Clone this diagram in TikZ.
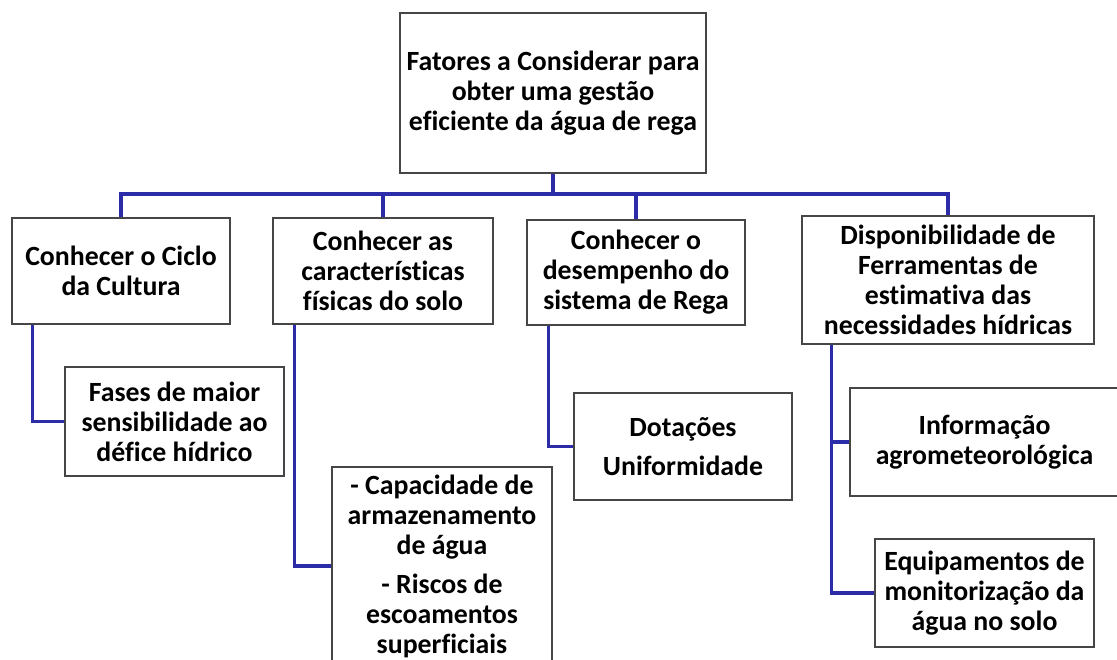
\documentclass[tikz,border=0pt]{standalone}
\usepackage{fontspec}
\setmainfont{Carlito}[Ligatures=NoCommon]
\usepackage{tikz}
\usetikzlibrary{positioning,calc}
\definecolor{linkblue}{RGB}{44,44,168}
\definecolor{boxgray}{RGB}{70,70,70}

\begin{document}
\begin{tikzpicture}[x=1pt,y=-1pt,every node/.style={draw=boxgray,line width=1.5pt,align=center,inner sep=2pt,font=\bfseries\fontsize{27.8}{30}\selectfont}]
\tikzstyle{link}=[draw=linkblue,line width=3.5pt]
\tikzstyle{box}=[fill=white]

\useasboundingbox (0,0) rectangle (1117,659);

% top
\node (goal) [box,minimum width=306,minimum height=160] at (553,93) {Fatores a Considerar para\\obter uma gestão\\eficiente da água de rega};
\coordinate (bus) at (553,194);

% first level
\node (ciclo) [box,minimum width=218,minimum height=106] at (121,271) {Conhecer o Ciclo\\da Cultura};
\node (solo) [box,minimum width=220,minimum height=106] at (383,271) {Conhecer as\\características\\físicas do solo};
\node (rega) [box,minimum width=218,minimum height=105] at (636,272.5) {Conhecer o\\desempenho do\\sistema de Rega};
\node (ferr) [box,minimum width=292,minimum height=128] at (948,280) {Disponibilidade de\\Ferramentas de\\estimativa das\\necessidades hídricas};

% second level
\node (fases) [box,minimum width=219,minimum height=109] at (174.5,421.5) {Fases de maior\\sensibilidade ao\\défice hídrico};
\node (capac) [box,minimum width=220,minimum height=198] at (442,566) {- Capacidade de\\armazenamento\\de água\\[9pt]- Riscos de\\escoamentos\\superficiais};
\node (dot) [box,minimum width=218,minimum height=107] at (683,446.5) {Dotações\\[9pt]Uniformidade};
\node (info) [box,minimum width=269,minimum height=108] at (984.5,442) {Informação\\agrometeorológica};
\node (equip) [box,minimum width=219,minimum height=108] at (984.5,593) {Equipamentos de\\monitorização da\\água no solo};

% connectors
\draw [link] (goal.south) -- (bus);
\draw [link] (bus) -| (ciclo.north);
\draw [link] (bus) -| (solo.north);
\draw [link] (bus) -| (rega.north);
\draw [link] (bus) -| (ferr.north);

\draw [link] ([xshift=21pt]ciclo.south west) |- (fases.west);
\draw [link] ([xshift=22pt]solo.south west) |- (capac.west);
\draw [link] ([xshift=22pt]rega.south west) |- (dot.west);
\draw [link] ([xshift=30pt]ferr.south west) |- (info.west);
\draw [link] ([xshift=30pt]ferr.south west) |- (equip.west);

\end{tikzpicture}
\end{document}
